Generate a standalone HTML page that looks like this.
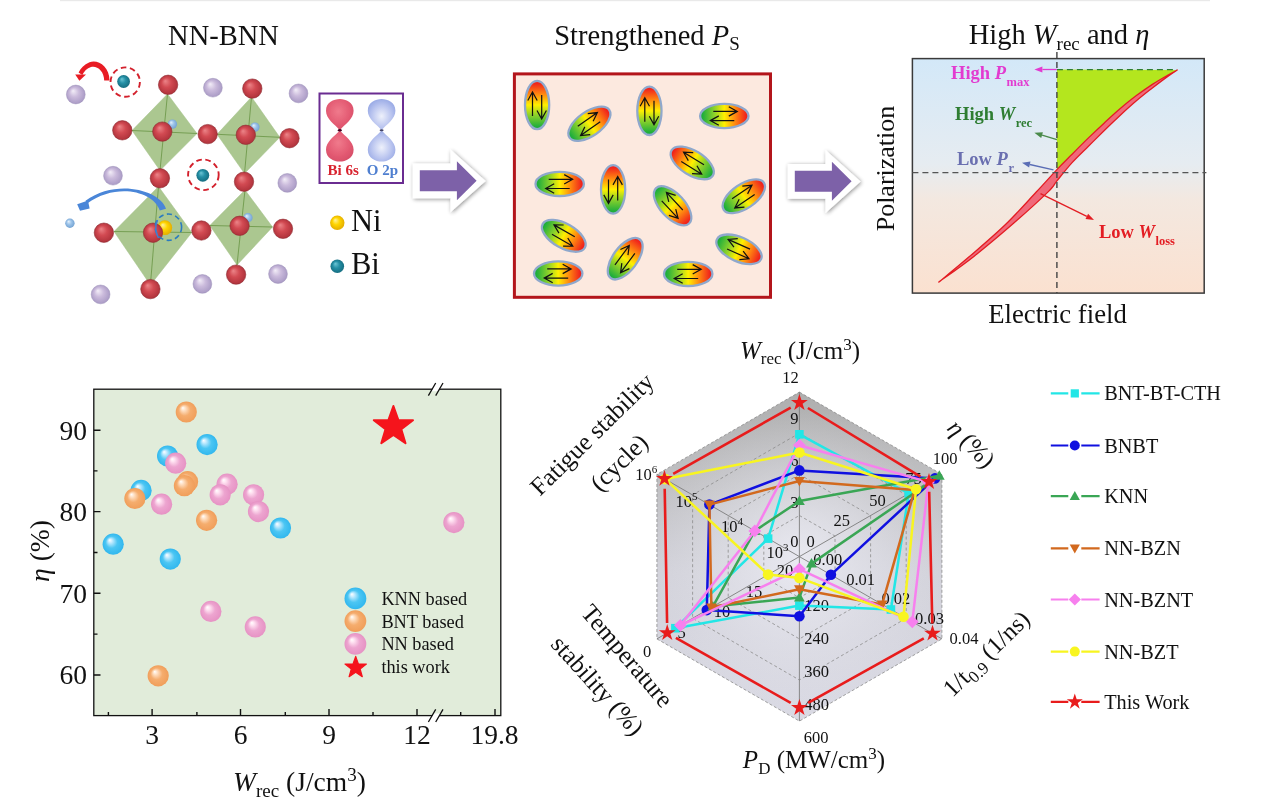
<!DOCTYPE html>
<html lang="en"><head><meta charset="utf-8"><title>NN-BNN energy storage</title>
<style>
html,body{margin:0;padding:0;background:#fff;}
body{width:1269px;height:809px;overflow:hidden;}
svg{display:block;font-family:"Liberation Serif","Times New Roman",serif;fill:#111;}
</style></head><body>
<svg width="1269" height="809" viewBox="0 0 1269 809">
<defs>
<radialGradient id="gRed" cx="0.5" cy="0.5" r="0.55" fx="0.35" fy="0.3"><stop offset="0" stop-color="#ec8589"/><stop offset="0.45" stop-color="#d24a52"/><stop offset="1" stop-color="#aa2f38"/></radialGradient>
<radialGradient id="gPur" cx="0.5" cy="0.5" r="0.55" fx="0.35" fy="0.3"><stop offset="0" stop-color="#f3eef8"/><stop offset="0.45" stop-color="#cbbbdc"/><stop offset="1" stop-color="#a596c2"/></radialGradient>
<radialGradient id="gLb" cx="0.5" cy="0.5" r="0.55" fx="0.35" fy="0.3"><stop offset="0" stop-color="#e6f2fc"/><stop offset="0.45" stop-color="#9dc4ea"/><stop offset="1" stop-color="#6f9fd0"/></radialGradient>
<radialGradient id="gTeal" cx="0.5" cy="0.5" r="0.55" fx="0.35" fy="0.3"><stop offset="0" stop-color="#6fc6d6"/><stop offset="0.45" stop-color="#2590a6"/><stop offset="1" stop-color="#14697c"/></radialGradient>
<radialGradient id="gYel" cx="0.5" cy="0.5" r="0.55" fx="0.35" fy="0.3"><stop offset="0" stop-color="#fff3a0"/><stop offset="0.45" stop-color="#ffd500"/><stop offset="1" stop-color="#e0a800"/></radialGradient>
<radialGradient id="gOr" cx="0.45" cy="0.4" r="0.6"><stop offset="0" stop-color="#f07a8c"/><stop offset="0.7" stop-color="#e35a72"/><stop offset="1" stop-color="#d9506a"/></radialGradient>
<radialGradient id="gOb" cx="0.5" cy="0.55" r="0.6"><stop offset="0" stop-color="#eef1fb"/><stop offset="0.6" stop-color="#b9c4ef"/><stop offset="1" stop-color="#94a6e4"/></radialGradient>
<filter id="blur1"><feGaussianBlur stdDeviation="0.7"/></filter>
<filter id="sh" x="-40%" y="-60%" width="180%" height="220%"><feGaussianBlur in="SourceAlpha" stdDeviation="2.2"/><feOffset dx="0.5" dy="1"/><feComponentTransfer><feFuncA type="linear" slope="0.45"/></feComponentTransfer><feMerge><feMergeNode/><feMergeNode in="SourceGraphic"/></feMerge></filter>
<linearGradient id="gEl" x1="0" y1="0" x2="1" y2="0"><stop offset="0.05" stop-color="#1fae3c"/><stop offset="0.3" stop-color="#8fd22a"/><stop offset="0.5" stop-color="#fff000"/><stop offset="0.72" stop-color="#ff8a10"/><stop offset="0.95" stop-color="#f0241c"/></linearGradient>
<marker id="mk" viewBox="0 0 10 10" refX="9" refY="5" markerWidth="7" markerHeight="7" orient="auto-start-reverse"><path d="M1,1 L9,5 L1,9" fill="none" stroke="#111" stroke-width="1.4"/></marker>
<linearGradient id="gPE" x1="0" y1="0" x2="0" y2="1"><stop offset="0" stop-color="#d3e8f8"/><stop offset="0.45" stop-color="#e6ecf1"/><stop offset="0.6" stop-color="#f3e8e0"/><stop offset="1" stop-color="#fbe1d0"/></linearGradient>
<radialGradient id="sB" cx="0.5" cy="0.5" r="0.5" fx="0.33" fy="0.3"><stop offset="0" stop-color="#ffffff"/><stop offset="0.18" stop-color="#c6ecff"/><stop offset="0.55" stop-color="#4cc6f3"/><stop offset="1" stop-color="#31b7ee"/></radialGradient>
<radialGradient id="sO" cx="0.5" cy="0.5" r="0.5" fx="0.33" fy="0.3"><stop offset="0" stop-color="#ffffff"/><stop offset="0.18" stop-color="#ffe3c9"/><stop offset="0.55" stop-color="#f5ad6e"/><stop offset="1" stop-color="#f09e5a"/></radialGradient>
<radialGradient id="sP" cx="0.5" cy="0.5" r="0.5" fx="0.33" fy="0.3"><stop offset="0" stop-color="#ffffff"/><stop offset="0.18" stop-color="#ffe3f2"/><stop offset="0.55" stop-color="#eda5d0"/><stop offset="1" stop-color="#e692c4"/></radialGradient>
<linearGradient id="gHex" gradientUnits="userSpaceOnUse" x1="0" y1="392" x2="0" y2="721"><stop offset="0" stop-color="#aeaeae"/><stop offset="0.3" stop-color="#c2c2c5"/><stop offset="0.55" stop-color="#d2d2da"/><stop offset="1" stop-color="#dadae4"/></linearGradient>
<radialGradient id="gHex2" gradientUnits="userSpaceOnUse" cx="799.4" cy="560" r="150"><stop offset="0" stop-color="#ececf4" stop-opacity="0.9"/><stop offset="0.5" stop-color="#e8e8f0" stop-opacity="0.45"/><stop offset="1" stop-color="#e0e0e8" stop-opacity="0"/></radialGradient>
</defs>
<rect width="1269" height="809" fill="#fff"/>
<rect x="60" y="0" width="1150" height="1.2" fill="#e9e9e9"/>
<g id="p1">
<text x="223.5" y="45" font-size="28.5" text-anchor="middle">NN-BNN</text>
<polygon points="167.5,94.0 197.0,133.5 160.0,170.5 132.0,130.5" fill="#abc790" stroke="#a3c088" stroke-width="0.5"/>
<path d="M167.5,94L160,170.5M132,130.5L197,133.5" stroke="#6f9a4c" stroke-width="0.9" fill="none"/>
<polygon points="251.5,97.0 279.8,137.3 244.5,173.5 217.0,134.3" fill="#abc790" stroke="#a3c088" stroke-width="0.5"/>
<path d="M251.5,97L244.5,173.5M217,134.3L279.8,137.3" stroke="#6f9a4c" stroke-width="0.9" fill="none"/>
<polygon points="158.5,186.5 191.8,232.5 150.4,285.0 114.0,231.5" fill="#abc790" stroke="#a3c088" stroke-width="0.5"/>
<path d="M158.5,186.5L150.4,285M114,231.5L191.8,232.5" stroke="#6f9a4c" stroke-width="0.9" fill="none"/>
<polygon points="245.0,190.0 272.5,227.0 237.0,265.0 209.8,225.5" fill="#abc790" stroke="#a3c088" stroke-width="0.5"/>
<path d="M245,190L237,265M209.8,225.5L272.5,227" stroke="#6f9a4c" stroke-width="0.9" fill="none"/>
<circle cx="172.4" cy="124.1" r="4.7" fill="url(#gLb)"/>
<circle cx="254.9" cy="127.1" r="4.7" fill="url(#gLb)"/>
<circle cx="247.9" cy="217.7" r="4.7" fill="url(#gLb)"/>
<circle cx="69.9" cy="223.2" r="4.7" fill="url(#gLb)"/>
<circle cx="75.8" cy="94.5" r="9.4" fill="url(#gPur)" stroke="#9d90b8" stroke-width="0.5"/>
<circle cx="212.9" cy="87.7" r="9.4" fill="url(#gPur)" stroke="#9d90b8" stroke-width="0.5"/>
<circle cx="298.5" cy="93.4" r="9.4" fill="url(#gPur)" stroke="#9d90b8" stroke-width="0.5"/>
<circle cx="113" cy="175.7" r="9.4" fill="url(#gPur)" stroke="#9d90b8" stroke-width="0.5"/>
<circle cx="287.3" cy="182.9" r="9.4" fill="url(#gPur)" stroke="#9d90b8" stroke-width="0.5"/>
<circle cx="202.4" cy="283.9" r="9.4" fill="url(#gPur)" stroke="#9d90b8" stroke-width="0.5"/>
<circle cx="278" cy="274" r="9.4" fill="url(#gPur)" stroke="#9d90b8" stroke-width="0.5"/>
<circle cx="100.6" cy="294.4" r="9.4" fill="url(#gPur)" stroke="#9d90b8" stroke-width="0.5"/>
<circle cx="164.8" cy="227.7" r="7.4" fill="url(#gYel)"/>
<circle cx="168.1" cy="84.8" r="9.7" fill="url(#gRed)" stroke="#8e2a30" stroke-width="0.6"/>
<circle cx="252.3" cy="88.6" r="9.7" fill="url(#gRed)" stroke="#8e2a30" stroke-width="0.6"/>
<circle cx="122.3" cy="130.3" r="9.7" fill="url(#gRed)" stroke="#8e2a30" stroke-width="0.6"/>
<circle cx="162.3" cy="131.6" r="9.7" fill="url(#gRed)" stroke="#8e2a30" stroke-width="0.6"/>
<circle cx="207.7" cy="134.1" r="9.7" fill="url(#gRed)" stroke="#8e2a30" stroke-width="0.6"/>
<circle cx="245.8" cy="134.8" r="9.7" fill="url(#gRed)" stroke="#8e2a30" stroke-width="0.6"/>
<circle cx="289.5" cy="138.2" r="9.7" fill="url(#gRed)" stroke="#8e2a30" stroke-width="0.6"/>
<circle cx="159.9" cy="178.3" r="9.7" fill="url(#gRed)" stroke="#8e2a30" stroke-width="0.6"/>
<circle cx="244" cy="181.7" r="9.7" fill="url(#gRed)" stroke="#8e2a30" stroke-width="0.6"/>
<circle cx="103.9" cy="232.7" r="9.7" fill="url(#gRed)" stroke="#8e2a30" stroke-width="0.6"/>
<circle cx="153" cy="232.7" r="9.7" fill="url(#gRed)" stroke="#8e2a30" stroke-width="0.6"/>
<circle cx="201.4" cy="230.5" r="9.7" fill="url(#gRed)" stroke="#8e2a30" stroke-width="0.6"/>
<circle cx="239.6" cy="225.8" r="9.7" fill="url(#gRed)" stroke="#8e2a30" stroke-width="0.6"/>
<circle cx="283" cy="228.8" r="9.7" fill="url(#gRed)" stroke="#8e2a30" stroke-width="0.6"/>
<circle cx="150.4" cy="289.1" r="9.7" fill="url(#gRed)" stroke="#8e2a30" stroke-width="0.6"/>
<circle cx="236.1" cy="274.6" r="9.7" fill="url(#gRed)" stroke="#8e2a30" stroke-width="0.6"/>
<circle cx="123.6" cy="81.5" r="6.4" fill="url(#gTeal)"/>
<circle cx="202.8" cy="175.3" r="6.4" fill="url(#gTeal)"/>
<circle cx="125.2" cy="82.1" r="14.7" fill="none" stroke="#d3202c" stroke-width="1.9" stroke-dasharray="5.6 3.6"/>
<circle cx="203.4" cy="174.8" r="15.3" fill="none" stroke="#d3202c" stroke-width="1.9" stroke-dasharray="5.6 3.6"/>
<circle cx="168.4" cy="227.2" r="13.2" fill="none" stroke="#2a7bc0" stroke-width="1.6" stroke-dasharray="5.2 3.4"/>
<path d="M157.5,220 Q153.5,229 158.5,238" fill="none" stroke="#3f7fd0" stroke-width="1.5"/>
<path d="M104.2,80.6 L109.5,80.4 C109.6,66 97.5,59 89.5,62.2 C84,64.5 80.5,68.5 78.6,72.6 L82.3,75 C84,71.2 87,68 91,66.9 C97,65.4 104,70.5 104.2,80.6 Z" fill="#e81c24"/>
<polygon points="75.2,74.6 86,74.4 79.4,80.8" fill="#e81c24"/>
<path d="M159.8,210.5 L166,208.8 C160,190 116,178.5 85.5,200.8 L87.2,203.6 C116,182.6 153,191 159.8,210.5 Z" fill="#4a86d8"/>
<polygon points="77.2,204.2 88,200.6 89.6,208.6 80,210.8" fill="#4a86d8"/>
<rect x="319.5" y="93.5" width="83.5" height="89.5" fill="#fff" stroke="#6a2c91" stroke-width="2"/>
<path d="M339.8,130.3 C334.8,124.30000000000001 326.0,119.30000000000001 326.0,110.80000000000001 C326.0,102.30000000000001 333.8,99.00000000000001 339.8,99.00000000000001 C345.8,99.00000000000001 353.6,102.30000000000001 353.6,110.80000000000001 C353.6,119.30000000000001 344.8,124.30000000000001 339.8,130.3Z" fill="url(#gOr)" filter="url(#blur1)"/>
<path d="M339.8,130.3 C334.8,136.3 326.0,141.3 326.0,149.8 C326.0,158.3 333.8,161.60000000000002 339.8,161.60000000000002 C345.8,161.60000000000002 353.6,158.3 353.6,149.8 C353.6,141.3 344.8,136.3 339.8,130.3Z" fill="url(#gOr)" filter="url(#blur1)"/>
<path d="M381.6,130.3 C376.6,124.30000000000001 367.8,119.30000000000001 367.8,110.80000000000001 C367.8,102.30000000000001 375.6,99.00000000000001 381.6,99.00000000000001 C387.6,99.00000000000001 395.40000000000003,102.30000000000001 395.40000000000003,110.80000000000001 C395.40000000000003,119.30000000000001 386.6,124.30000000000001 381.6,130.3Z" fill="url(#gOb)" filter="url(#blur1)"/>
<path d="M381.6,130.3 C376.6,136.3 367.8,141.3 367.8,149.8 C367.8,158.3 375.6,161.60000000000002 381.6,161.60000000000002 C387.6,161.60000000000002 395.40000000000003,158.3 395.40000000000003,149.8 C395.40000000000003,141.3 386.6,136.3 381.6,130.3Z" fill="url(#gOb)" filter="url(#blur1)"/>
<ellipse cx="339.8" cy="130.3" rx="2" ry="1.2" fill="#402"/><ellipse cx="381.6" cy="130.3" rx="2" ry="1" fill="#446"/>
<text x="327.5" y="174.7" font-size="15" font-weight="bold" fill="#d8232f">Bi 6s</text>
<text x="366.8" y="174.7" font-size="15" font-weight="bold" fill="#4f7fd0">O 2p</text>
<circle cx="337.3" cy="222.8" r="7.2" fill="url(#gYel)"/>
<circle cx="337.3" cy="266.3" r="6.8" fill="url(#gTeal)"/>
<text x="351" y="230.5" font-size="30.5">Ni</text>
<text x="351" y="273.5" font-size="30.5">Bi</text>
</g>
<polygon points="412.8,163.39999999999998 450.50000000000006,163.39999999999998 450.50000000000006,149.5 485.6,180.89999999999998 450.50000000000006,212.29999999999998 450.50000000000006,198.2 412.8,198.2" fill="#fff" filter="url(#sh)"/><polygon points="419.8,170.2 456.90000000000003,170.2 456.90000000000003,161.2 476.6,180.7 456.90000000000003,200.2 456.90000000000003,191.2 419.8,191.2" fill="#7d61a8"/>
<polygon points="787.8,164.0 825.5,164.0 825.5,150.10000000000002 860.5999999999999,181.5 825.5,212.9 825.5,198.8 787.8,198.8" fill="#fff" filter="url(#sh)"/><polygon points="794.8,170.8 831.9,170.8 831.9,161.8 851.5999999999999,181.3 831.9,200.8 831.9,191.8 794.8,191.8" fill="#7d61a8"/>
<g id="p2">
<text x="647" y="44.5" font-size="28.5" text-anchor="middle">Strengthened <tspan font-style="italic">P</tspan><tspan font-size="19" dy="5.5">S</tspan></text>
<rect x="514.4" y="73.9" width="256.1" height="223.4" fill="#fce9df" stroke="#b3151b" stroke-width="3"/>
<g transform="translate(537.1,105.0) rotate(-90)"><ellipse rx="24.2" ry="12.1" fill="url(#gEl)" stroke="#8fa8cc" stroke-width="2.3"/><g transform="" fill="none" stroke="#111" stroke-width="1.2"><path d="M-11,-4.6 H13 M4.5,-9.3 L13,-4.6 L4.5,0.1"/><path d="M10,4.6 H-14 M-5.5,9.3 L-14,4.6 L-5.5,-0.1"/></g></g>
<g transform="translate(589.4,123.8) rotate(-35)"><ellipse rx="24.2" ry="12.1" fill="url(#gEl)" stroke="#8fa8cc" stroke-width="2.3"/><g transform="" fill="none" stroke="#111" stroke-width="1.2"><path d="M-11,-4.6 H13 M4.5,-9.3 L13,-4.6 L4.5,0.1"/><path d="M10,4.6 H-14 M-5.5,9.3 L-14,4.6 L-5.5,-0.1"/></g></g>
<g transform="translate(649.4,110.8) rotate(-90)"><ellipse rx="24.2" ry="12.1" fill="url(#gEl)" stroke="#8fa8cc" stroke-width="2.3"/><g transform="" fill="none" stroke="#111" stroke-width="1.2"><path d="M-11,-4.6 H13 M4.5,-9.3 L13,-4.6 L4.5,0.1"/><path d="M10,4.6 H-14 M-5.5,9.3 L-14,4.6 L-5.5,-0.1"/></g></g>
<g transform="translate(724.3,116.0) rotate(0)"><ellipse rx="24.2" ry="12.1" fill="url(#gEl)" stroke="#8fa8cc" stroke-width="2.3"/><g transform="" fill="none" stroke="#111" stroke-width="1.2"><path d="M-11,-4.6 H13 M4.5,-9.3 L13,-4.6 L4.5,0.1"/><path d="M10,4.6 H-14 M-5.5,9.3 L-14,4.6 L-5.5,-0.1"/></g></g>
<g transform="translate(692.2,162.9) rotate(211.5)"><ellipse rx="24.2" ry="12.1" fill="url(#gEl)" stroke="#8fa8cc" stroke-width="2.3"/><g transform="scale(1,-1)" fill="none" stroke="#111" stroke-width="1.2"><path d="M-11,-4.6 H13 M4.5,-9.3 L13,-4.6 L4.5,0.1"/><path d="M10,4.6 H-14 M-5.5,9.3 L-14,4.6 L-5.5,-0.1"/></g></g>
<g transform="translate(559.7,183.9) rotate(0)"><ellipse rx="24.2" ry="12.1" fill="url(#gEl)" stroke="#8fa8cc" stroke-width="2.3"/><g transform="" fill="none" stroke="#111" stroke-width="1.2"><path d="M-11,-4.6 H13 M4.5,-9.3 L13,-4.6 L4.5,0.1"/><path d="M10,4.6 H-14 M-5.5,9.3 L-14,4.6 L-5.5,-0.1"/></g></g>
<g transform="translate(613.1,189.4) rotate(-90)"><ellipse rx="24.2" ry="12.1" fill="url(#gEl)" stroke="#8fa8cc" stroke-width="2.3"/><g transform="scale(1,-1)" fill="none" stroke="#111" stroke-width="1.2"><path d="M-11,-4.6 H13 M4.5,-9.3 L13,-4.6 L4.5,0.1"/><path d="M10,4.6 H-14 M-5.5,9.3 L-14,4.6 L-5.5,-0.1"/></g></g>
<g transform="translate(672.6,205.8) rotate(47)"><ellipse rx="24.2" ry="12.1" fill="url(#gEl)" stroke="#8fa8cc" stroke-width="2.3"/><g transform="scale(1,-1)" fill="none" stroke="#111" stroke-width="1.2"><path d="M-11,-4.6 H13 M4.5,-9.3 L13,-4.6 L4.5,0.1"/><path d="M10,4.6 H-14 M-5.5,9.3 L-14,4.6 L-5.5,-0.1"/></g></g>
<g transform="translate(743.8,196.3) rotate(-34)"><ellipse rx="24.2" ry="12.1" fill="url(#gEl)" stroke="#8fa8cc" stroke-width="2.3"/><g transform="" fill="none" stroke="#111" stroke-width="1.2"><path d="M-11,-4.6 H13 M4.5,-9.3 L13,-4.6 L4.5,0.1"/><path d="M10,4.6 H-14 M-5.5,9.3 L-14,4.6 L-5.5,-0.1"/></g></g>
<g transform="translate(563.8,235.8) rotate(29.7)"><ellipse rx="24.2" ry="12.1" fill="url(#gEl)" stroke="#8fa8cc" stroke-width="2.3"/><g transform="scale(1,-1)" fill="none" stroke="#111" stroke-width="1.2"><path d="M-11,-4.6 H13 M4.5,-9.3 L13,-4.6 L4.5,0.1"/><path d="M10,4.6 H-14 M-5.5,9.3 L-14,4.6 L-5.5,-0.1"/></g></g>
<g transform="translate(625.2,258.7) rotate(-53.4)"><ellipse rx="24.2" ry="12.1" fill="url(#gEl)" stroke="#8fa8cc" stroke-width="2.3"/><g transform="" fill="none" stroke="#111" stroke-width="1.2"><path d="M-11,-4.6 H13 M4.5,-9.3 L13,-4.6 L4.5,0.1"/><path d="M10,4.6 H-14 M-5.5,9.3 L-14,4.6 L-5.5,-0.1"/></g></g>
<g transform="translate(739.0,249.3) rotate(24)"><ellipse rx="24.2" ry="12.1" fill="url(#gEl)" stroke="#8fa8cc" stroke-width="2.3"/><g transform="scale(1,-1)" fill="none" stroke="#111" stroke-width="1.2"><path d="M-11,-4.6 H13 M4.5,-9.3 L13,-4.6 L4.5,0.1"/><path d="M10,4.6 H-14 M-5.5,9.3 L-14,4.6 L-5.5,-0.1"/></g></g>
<g transform="translate(558.2,273.5) rotate(0)"><ellipse rx="24.2" ry="12.1" fill="url(#gEl)" stroke="#8fa8cc" stroke-width="2.3"/><g transform="" fill="none" stroke="#111" stroke-width="1.2"><path d="M-11,-4.6 H13 M4.5,-9.3 L13,-4.6 L4.5,0.1"/><path d="M10,4.6 H-14 M-5.5,9.3 L-14,4.6 L-5.5,-0.1"/></g></g>
<g transform="translate(688.2,273.9) rotate(0)"><ellipse rx="24.2" ry="12.1" fill="url(#gEl)" stroke="#8fa8cc" stroke-width="2.3"/><g transform="" fill="none" stroke="#111" stroke-width="1.2"><path d="M-11,-4.6 H13 M4.5,-9.3 L13,-4.6 L4.5,0.1"/><path d="M10,4.6 H-14 M-5.5,9.3 L-14,4.6 L-5.5,-0.1"/></g></g>
</g>
<g id="p3">
<text x="1059" y="44" font-size="28.5" text-anchor="middle">High <tspan font-style="italic">W</tspan><tspan font-size="19" dy="6">rec</tspan><tspan dy="-6"> and </tspan><tspan font-style="italic">η</tspan></text>
<rect x="912.4" y="58.6" width="291.8" height="234.5" fill="url(#gPE)" stroke="#3a3a3a" stroke-width="1.5"/>
<path d="M1056.9,69.6 L1177.3,70.0 C1175.8,70.8 1172.7,72.4 1168.5,74.8 C1164.3,77.2 1157.8,80.9 1152.4,84.4 C1147.1,87.9 1141.8,91.6 1136.4,95.6 C1131.1,99.6 1125.7,104.0 1120.3,108.5 C1114.9,113.0 1109.6,118.0 1104.3,122.9 C1099.0,127.8 1093.6,132.9 1088.2,138.1 C1082.8,143.3 1077.3,148.9 1072.1,154.2 C1066.9,159.4 1059.4,167.0 1056.9,169.6 Z" fill="#b4e61e"/>
<path d="M938.8,282.1 C943.9,277.9 958.3,266.2 969.4,256.6 C980.5,247.0 994.4,235.2 1005.5,224.5 C1016.6,213.8 1027.4,201.5 1036.0,192.3 C1044.6,183.2 1050.9,175.9 1056.9,169.6 C1062.9,163.2 1066.9,159.4 1072.1,154.2 C1077.3,148.9 1082.8,143.3 1088.2,138.1 C1093.6,132.9 1099.0,127.8 1104.3,122.9 C1109.6,118.0 1114.9,113.0 1120.3,108.5 C1125.7,104.0 1131.1,99.6 1136.4,95.6 C1141.8,91.6 1147.1,87.9 1152.4,84.4 C1157.8,80.9 1164.3,77.2 1168.5,74.8 C1172.7,72.4 1175.8,70.8 1177.3,70.0 C1175.8,71.0 1172.7,72.9 1168.5,75.9 C1164.3,78.9 1157.8,83.8 1152.4,87.9 C1147.1,92.1 1141.8,96.2 1136.4,100.8 C1131.1,105.3 1125.7,110.2 1120.3,115.2 C1114.9,120.2 1109.6,125.3 1104.3,130.5 C1099.0,135.7 1093.6,141.2 1088.2,146.5 C1082.8,151.8 1077.3,156.9 1072.1,162.6 C1066.9,168.3 1060.9,176.0 1056.9,180.9 C1052.9,185.8 1055.5,184.7 1048.1,191.9 C1040.7,199.1 1025.0,213.4 1012.7,224.1 C1000.4,234.8 986.5,246.5 974.2,256.2 C961.9,265.9 944.7,277.8 938.8,282.1 Z" fill="#f0697a" stroke="#e31d23" stroke-width="1.3" stroke-linejoin="round"/>
<path d="M912.4,172.6 H1206.4" stroke="#555" stroke-width="1.4" stroke-dasharray="6 4" fill="none"/>
<path d="M1056.9,52 V293" stroke="#444" stroke-width="1.4" stroke-dasharray="6 4" fill="none"/>
<path d="M1056.9,69.6 H1177" stroke="#2e7d32" stroke-width="1.4" stroke-dasharray="6 4" fill="none"/>
<path d="M1056.9,69.5 L1042.4,69.5" stroke="#e23bd0" stroke-width="1.3" fill="none"/><polygon points="1034.4,69.5 1042.4,66.5 1042.4,72.5" fill="#e23bd0"/>
<path d="M1056.9,139.6 L1042.1,135.1" stroke="#4a8a4a" stroke-width="1.3" fill="none"/><polygon points="1034.4,132.8 1042.9,132.2 1041.2,138.0" fill="#4a8a4a"/>
<path d="M1053.5,169.8 L1029.8,164.5" stroke="#5a6db5" stroke-width="1.3" fill="none"/><polygon points="1022.0,162.7 1030.5,161.5 1029.1,167.4" fill="#5a6db5"/>
<path d="M1040.5,193.6 L1086.8,216.4" stroke="#e31d23" stroke-width="1.3" fill="none"/><polygon points="1094.0,219.9 1085.5,219.1 1088.1,213.7" fill="#e31d23"/>
<text x="951" y="79.3" font-size="18.5" font-weight="bold" fill="#e23bd0">High <tspan font-style="italic">P</tspan><tspan font-size="12.5" dy="7" dx="0.5">max</tspan></text>
<text x="955" y="120.4" font-size="18.5" font-weight="bold" fill="#2e7d32">High <tspan font-style="italic">W</tspan><tspan font-size="12.5" dy="7" dx="0.5">rec</tspan></text>
<text x="957" y="164.9" font-size="18.5" font-weight="bold" fill="#6a6fb0">Low <tspan font-style="italic">P</tspan><tspan font-size="12.5" dy="7" dx="0.5">r</tspan></text>
<text x="1099" y="238.4" font-size="18.5" font-weight="bold" fill="#e31d23">Low <tspan font-style="italic">W</tspan><tspan font-size="12.5" dy="7" dx="0.5">loss</tspan></text>
<text transform="translate(894,168.5) rotate(-90)" font-size="26" text-anchor="middle">Polarization</text>
<text x="1057.5" y="322.5" font-size="26.7" text-anchor="middle">Electric field</text>
</g>
<g id="p4">
<rect x="93.8" y="389.2" width="407.0" height="326.40000000000003" fill="#e1ecda" stroke="#111" stroke-width="1.3"/>
<text x="87" y="439.5" font-size="27.5" text-anchor="end">90</text>
<text x="87" y="520.9" font-size="27.5" text-anchor="end">80</text>
<text x="87" y="602.6" font-size="27.5" text-anchor="end">70</text>
<text x="87" y="684.3" font-size="27.5" text-anchor="end">60</text>
<path d="M93.8,430.2 h6.7 M93.8,511.6 h6.7 M93.8,593.3 h6.7 M93.8,675.0 h6.7 M93.8,470.9 h3.7 M93.8,552.5 h3.7 M93.8,634.1 h3.7 M152.1,715.6 v-6.7 M240.5,715.6 v-6.7 M329,715.6 v-6.7 M417,715.6 v-6.7 M495,715.6 v-6.7 M108.4,715.6 v-3.7 M196.9,715.6 v-3.7 M285.3,715.6 v-3.7 M373,715.6 v-3.7 M460.7,715.6 v-3.7 " stroke="#111" stroke-width="1.4" fill="none"/>
<text x="152.1" y="744" font-size="27.5" text-anchor="middle">3</text>
<text x="240.5" y="744" font-size="27.5" text-anchor="middle">6</text>
<text x="329" y="744" font-size="27.5" text-anchor="middle">9</text>
<text x="417" y="744" font-size="27.5" text-anchor="middle">12</text>
<text x="494.5" y="744" font-size="27.5" text-anchor="middle">19.8</text>
<polygon points="431.2,391.2 433.5,387.2 440.8,387.2 438.5,391.2" fill="#fff"/>
<path d="M428.4,395.59999999999997 l7.3,-12.6 M435.7,395.59999999999997 l7.3,-12.6" stroke="#111" stroke-width="1.3" fill="none"/>
<polygon points="431.2,717.6 433.5,713.6 440.8,713.6 438.5,717.6" fill="#fff"/>
<path d="M428.4,722.0 l7.3,-12.6 M435.7,722.0 l7.3,-12.6" stroke="#111" stroke-width="1.3" fill="none"/>
<circle cx="113.2" cy="544.2" r="10.6" fill="url(#sB)"/>
<circle cx="141.1" cy="490.4" r="10.6" fill="url(#sB)"/>
<circle cx="167.6" cy="456" r="10.6" fill="url(#sB)"/>
<circle cx="207.1" cy="444.6" r="10.6" fill="url(#sB)"/>
<circle cx="170.3" cy="559.1" r="10.6" fill="url(#sB)"/>
<circle cx="280.5" cy="528" r="10.6" fill="url(#sB)"/>
<circle cx="186.3" cy="412" r="10.6" fill="url(#sO)"/>
<circle cx="134.9" cy="498.5" r="10.6" fill="url(#sO)"/>
<circle cx="187.6" cy="481.7" r="10.6" fill="url(#sO)"/>
<circle cx="184.4" cy="485.7" r="10.6" fill="url(#sO)"/>
<circle cx="206.6" cy="520.3" r="10.6" fill="url(#sO)"/>
<circle cx="158.2" cy="675.8" r="10.6" fill="url(#sO)"/>
<circle cx="175.7" cy="463.2" r="10.6" fill="url(#sP)"/>
<circle cx="161.6" cy="504.2" r="10.6" fill="url(#sP)"/>
<circle cx="227.1" cy="484.2" r="10.6" fill="url(#sP)"/>
<circle cx="220.2" cy="494.8" r="10.6" fill="url(#sP)"/>
<circle cx="253.6" cy="494.8" r="10.6" fill="url(#sP)"/>
<circle cx="258.5" cy="511.6" r="10.6" fill="url(#sP)"/>
<circle cx="210.9" cy="611.4" r="10.6" fill="url(#sP)"/>
<circle cx="255.3" cy="626.9" r="10.6" fill="url(#sP)"/>
<circle cx="453.9" cy="522.6" r="10.6" fill="url(#sP)"/>
<polygon points="393.4,406.0 398.3,419.9 413.0,420.2 401.3,429.2 405.5,443.3 393.4,434.9 381.3,443.3 385.5,429.2 373.8,420.2 388.5,419.9" fill="#f5141c" stroke="#f5141c" stroke-width="2" stroke-linejoin="round"/>
<circle cx="355.4" cy="598.4" r="10.9" fill="url(#sB)"/>
<circle cx="355.4" cy="621.1" r="10.9" fill="url(#sO)"/>
<circle cx="355.4" cy="643.9" r="10.9" fill="url(#sP)"/>
<polygon points="355.7,656.4 358.4,663.9 366.4,664.1 360.1,669.0 362.3,676.7 355.7,672.2 349.1,676.7 351.3,669.0 345.0,664.1 353.0,663.9" fill="#f5141c" stroke="#f5141c" stroke-width="1.2" stroke-linejoin="round"/>
<text x="381.4" y="604.6" font-size="18.3">KNN based</text>
<text x="381.4" y="627.5" font-size="18.3">BNT based</text>
<text x="381.4" y="650.4" font-size="18.3">NN based</text>
<text x="381.4" y="672.9" font-size="18.3">this work</text>
<text transform="translate(48.5,551) rotate(-90)" font-size="27.5" text-anchor="middle"><tspan font-style="italic">η</tspan> (%)</text>
<text x="299.5" y="790.5" font-size="27.5" text-anchor="middle"><tspan font-style="italic">W</tspan><tspan font-size="19" dy="6">rec</tspan><tspan dy="-6"> (J/cm</tspan><tspan font-size="19" dy="-10">3</tspan><tspan dy="10">)</tspan></text>
</g>
<g id="p5">
<polygon points="799.4,392.1 941.9,474.4 941.9,638.9 799.4,721.1 656.9,638.9 656.9,474.4" fill="url(#gHex)"/>
<polygon points="799.4,392.1 941.9,474.4 941.9,638.9 799.4,721.1 656.9,638.9 656.9,474.4" fill="url(#gHex2)" stroke="#8a8a8a" stroke-width="0.8" stroke-dasharray="3 2"/>
<polygon points="799.4,515.5 835.0,536.0 835.0,577.2 799.4,597.7 763.8,577.2 763.8,536.0" fill="none" stroke="#8c8c8c" stroke-width="0.8" stroke-dasharray="3 2.5"/>
<polygon points="799.4,474.4 870.6,515.5 870.6,597.7 799.4,638.9 728.2,597.7 728.2,515.5" fill="none" stroke="#8c8c8c" stroke-width="0.8" stroke-dasharray="3 2.5"/>
<polygon points="799.4,433.2 906.2,494.9 906.2,618.3 799.4,680.0 692.6,618.3 692.6,494.9" fill="none" stroke="#8c8c8c" stroke-width="0.8" stroke-dasharray="3 2.5"/>
<path d="M799.4,556.6 L799.4,392.1" stroke="#7d7d7d" stroke-width="0.9" fill="none"/>
<path d="M799.4,556.6 L941.9,474.4" stroke="#7d7d7d" stroke-width="0.9" fill="none"/>
<path d="M799.4,556.6 L941.9,638.9" stroke="#7d7d7d" stroke-width="0.9" fill="none"/>
<path d="M799.4,556.6 L799.4,721.1" stroke="#7d7d7d" stroke-width="0.9" fill="none"/>
<path d="M799.4,556.6 L656.9,638.9" stroke="#7d7d7d" stroke-width="0.9" fill="none"/>
<path d="M799.4,556.6 L656.9,474.4" stroke="#7d7d7d" stroke-width="0.9" fill="none"/>
<text x="790.5" y="382.6" font-size="16.5" text-anchor="middle">12</text>
<text x="794.3" y="423.5" font-size="16.5" text-anchor="middle">9</text>
<text x="794.3" y="466.4" font-size="16.5" text-anchor="middle">6</text>
<text x="794.3" y="507.5" font-size="16.5" text-anchor="middle">3</text>
<text x="794.3" y="547.1" font-size="16.5" text-anchor="middle">0</text>
<text x="810.7" y="547.1" font-size="16.5" text-anchor="middle">0</text>
<text x="841.7" y="526.1" font-size="16.5" text-anchor="middle">25</text>
<text x="877.5" y="505.5" font-size="16.5" text-anchor="middle">50</text>
<text x="913.6" y="484.0" font-size="16.5" text-anchor="middle">75</text>
<text x="945.2" y="463.9" font-size="16.5" text-anchor="middle">100</text>
<text x="827.8" y="564.7" font-size="16.5" text-anchor="middle">0.00</text>
<text x="860.6" y="584.8" font-size="16.5" text-anchor="middle">0.01</text>
<text x="895.9" y="603.7" font-size="16.5" text-anchor="middle">0.02</text>
<text x="929.5" y="623.9" font-size="16.5" text-anchor="middle">0.03</text>
<text x="964" y="643.5" font-size="16.5" text-anchor="middle">0.04</text>
<text x="816.5" y="610.7" font-size="16.5" text-anchor="middle">120</text>
<text x="816.5" y="644.0" font-size="16.5" text-anchor="middle">240</text>
<text x="816.5" y="676.8" font-size="16.5" text-anchor="middle">360</text>
<text x="816.5" y="709.6" font-size="16.5" text-anchor="middle">480</text>
<text x="816" y="742.9" font-size="16.5" text-anchor="middle">600</text>
<text x="785" y="575.9" font-size="16.5" text-anchor="middle">20</text>
<text x="754" y="596.9" font-size="16.5" text-anchor="middle">15</text>
<text x="722" y="616.8" font-size="16.5" text-anchor="middle">10</text>
<text x="681.6" y="637.7" font-size="16.5" text-anchor="middle">5</text>
<text x="647" y="656.6" font-size="16.5" text-anchor="middle">0</text>
<text x="646.3" y="480.2" font-size="16.5" text-anchor="middle">10<tspan font-size="11" dy="-7">6</tspan></text>
<text x="686.6" y="506.7" font-size="16.5" text-anchor="middle">10<tspan font-size="11" dy="-7">5</tspan></text>
<text x="732" y="531.9" font-size="16.5" text-anchor="middle">10<tspan font-size="11" dy="-7">4</tspan></text>
<text x="777.4" y="558.4" font-size="16.5" text-anchor="middle">10<tspan font-size="11" dy="-7">3</tspan></text>
<polygon points="799.4,434.3 908.7,493.5 890.9,609.5 799.4,605.6 675.4,628.2 768.1,538.6" fill="none" stroke="#22e6e6" stroke-width="2.5" stroke-linejoin="round"/>
<rect x="795.1" y="430.0" width="8.6" height="8.6" fill="#22e6e6"/>
<rect x="904.4" y="489.2" width="8.6" height="8.6" fill="#22e6e6"/>
<rect x="886.6" y="605.2" width="8.6" height="8.6" fill="#22e6e6"/>
<rect x="795.1" y="601.3" width="8.6" height="8.6" fill="#22e6e6"/>
<rect x="671.1" y="623.9" width="8.6" height="8.6" fill="#22e6e6"/>
<rect x="763.8" y="534.3" width="8.6" height="8.6" fill="#22e6e6"/>
<polygon points="799.4,470.4 934.9,478.4 830.9,574.8 799.4,616.2 706.8,610.1 709.4,504.6" fill="none" stroke="#1010e0" stroke-width="2.5" stroke-linejoin="round"/>
<circle cx="799.4" cy="470.4" r="5.3" fill="#1010e0"/>
<circle cx="934.9" cy="478.4" r="5.3" fill="#1010e0"/>
<circle cx="830.9" cy="574.8" r="5.3" fill="#1010e0"/>
<circle cx="799.4" cy="616.2" r="5.3" fill="#1010e0"/>
<circle cx="706.8" cy="610.1" r="5.3" fill="#1010e0"/>
<circle cx="709.4" cy="504.6" r="5.3" fill="#1010e0"/>
<polygon points="799.4,501.1 939.3,475.8 811.5,563.6 799.4,597.6 712.8,606.6 754.8,530.9" fill="none" stroke="#3aa655" stroke-width="2.5" stroke-linejoin="round"/>
<polygon points="799.4,495.6 804.8,505.1 794.0,505.1" fill="#3aa655"/>
<polygon points="939.3,470.3 944.7,479.8 933.9,479.8" fill="#3aa655"/>
<polygon points="811.5,558.1 816.9,567.6 806.1,567.6" fill="#3aa655"/>
<polygon points="799.4,592.1 804.8,601.6 794.0,601.6" fill="#3aa655"/>
<polygon points="712.8,601.1 718.2,610.6 707.4,610.6" fill="#3aa655"/>
<polygon points="754.8,525.4 760.2,534.9 749.4,534.9" fill="#3aa655"/>
<polygon points="799.4,481.0 914.6,490.1 882.1,604.4 799.4,589.3 711.4,607.4 709.4,504.6" fill="none" stroke="#d2691e" stroke-width="2.5" stroke-linejoin="round"/>
<polygon points="799.4,486.5 804.8,477.0 794.0,477.0" fill="#d2691e"/>
<polygon points="914.6,495.6 920.0,486.1 909.2,486.1" fill="#d2691e"/>
<polygon points="882.1,609.9 887.5,600.4 876.7,600.4" fill="#d2691e"/>
<polygon points="799.4,594.8 804.8,585.3 794.0,585.3" fill="#d2691e"/>
<polygon points="711.4,612.9 716.8,603.4 706.0,603.4" fill="#d2691e"/>
<polygon points="709.4,510.1 714.8,500.6 704.0,500.6" fill="#d2691e"/>
<polygon points="799.4,445.2 928.4,482.1 912.3,621.8 799.4,569.1 680.4,625.3 754.8,530.9" fill="none" stroke="#f780ee" stroke-width="2.5" stroke-linejoin="round"/>
<polygon points="799.4,438.8 805.8,445.2 799.4,451.6 793.0,445.2" fill="#f780ee"/>
<polygon points="928.4,475.7 934.8,482.1 928.4,488.5 922.0,482.1" fill="#f780ee"/>
<polygon points="912.3,615.4 918.7,621.8 912.3,628.2 905.9,621.8" fill="#f780ee"/>
<polygon points="799.4,562.7 805.8,569.1 799.4,575.5 793.0,569.1" fill="#f780ee"/>
<polygon points="680.4,618.9 686.8,625.3 680.4,631.7 674.0,625.3" fill="#f780ee"/>
<polygon points="754.8,524.5 761.2,530.9 754.8,537.2 748.4,530.9" fill="#f780ee"/>
<polygon points="799.4,452.5 916.1,489.2 903.5,616.7 799.4,577.9 768.1,574.6 665.2,479.1" fill="none" stroke="#f8f520" stroke-width="2.5" stroke-linejoin="round"/>
<circle cx="799.4" cy="452.5" r="5.3" fill="#f8f520"/>
<circle cx="916.1" cy="489.2" r="5.3" fill="#f8f520"/>
<circle cx="903.5" cy="616.7" r="5.3" fill="#f8f520"/>
<circle cx="799.4" cy="577.9" r="5.3" fill="#f8f520"/>
<circle cx="768.1" cy="574.6" r="5.3" fill="#f8f520"/>
<circle cx="665.2" cy="479.1" r="5.3" fill="#f8f520"/>
<path d="M807.9,408.0 L920.4,476.6 M929.2,491.8 L932.3,623.5 M923.8,638.3 L808.1,702.9 M790.7,702.9 L675.9,637.8 M667.1,622.9 L664.7,488.7 M673.2,473.8 L790.7,407.7 " stroke="#e81c1c" stroke-width="2.6" fill="none"/>
<polygon points="799.4,394.0 801.4,400.1 807.8,400.1 802.6,403.8 804.6,409.9 799.4,406.2 794.2,409.9 796.2,403.8 791.0,400.1 797.4,400.1" fill="#e81c1c" stroke="#e81c1c" stroke-width="0" stroke-linejoin="round"/>
<polygon points="929.0,473.0 930.9,479.1 937.3,479.1 932.2,482.8 934.1,488.9 929.0,485.2 923.8,488.9 925.8,482.8 920.6,479.1 927.0,479.1" fill="#e81c1c" stroke="#e81c1c" stroke-width="0" stroke-linejoin="round"/>
<polygon points="932.5,624.7 934.5,630.7 940.9,630.7 935.7,634.5 937.7,640.6 932.5,636.8 927.3,640.6 929.3,634.5 924.1,630.7 930.5,630.7" fill="#e81c1c" stroke="#e81c1c" stroke-width="0" stroke-linejoin="round"/>
<polygon points="799.4,699.0 801.4,705.1 807.8,705.1 802.6,708.8 804.6,714.9 799.4,711.2 794.2,714.9 796.2,708.8 791.0,705.1 797.4,705.1" fill="#e81c1c" stroke="#e81c1c" stroke-width="0" stroke-linejoin="round"/>
<polygon points="667.2,624.1 669.2,630.2 675.6,630.2 670.4,633.9 672.4,640.0 667.2,636.3 662.1,640.0 664.0,633.9 658.9,630.2 665.3,630.2" fill="#e81c1c" stroke="#e81c1c" stroke-width="0" stroke-linejoin="round"/>
<polygon points="664.5,469.9 666.4,476.0 672.8,476.0 667.7,479.7 669.6,485.8 664.5,482.1 659.3,485.8 661.3,479.7 656.1,476.0 662.5,476.0" fill="#e81c1c" stroke="#e81c1c" stroke-width="0" stroke-linejoin="round"/>
<text x="800" y="358.5" font-size="25" text-anchor="middle"><tspan font-style="italic">W</tspan><tspan font-size="17.0" dy="5.5">rec</tspan><tspan dy="-5.5"> (J/cm</tspan><tspan font-size="17.0" dy="-9.0">3</tspan><tspan dy="9.0">)</tspan></text>
<text x="814" y="768" font-size="25" text-anchor="middle"><tspan font-style="italic">P</tspan><tspan font-size="17" dy="5.5">D</tspan><tspan dy="-5.5"> (MW/cm</tspan><tspan font-size="17" dy="-9">3</tspan><tspan dy="9">)</tspan></text>
<text transform="translate(970.4,444.5) rotate(46.5)" y="7" font-size="25" text-anchor="middle"><tspan font-style="italic">η</tspan> (%)</text>
<text transform="translate(987,654.4) rotate(-44.5)" y="7" font-size="24.5" text-anchor="middle">1/t<tspan font-size="17" dy="5.5">0.9</tspan><tspan dy="-5.5"> (1/ns)</tspan></text>
<text transform="translate(626.3,656.7) rotate(49.5)" y="7" font-size="25" text-anchor="middle">Temperature</text>
<text transform="translate(596.6,686.4) rotate(48)" y="7" font-size="25" text-anchor="middle">stability (%)</text>
<text transform="translate(592.9,435) rotate(-44.5)" y="7" font-size="25" text-anchor="middle">Fatigue stability</text>
<text transform="translate(620,463.4) rotate(-44.5)" y="7" font-size="25" text-anchor="middle">(cycle)</text>
<path d="M1050.8,393.4 H1068.3 M1081.3,393.4 H1099.6" stroke="#22e6e6" stroke-width="2.2"/>
<rect x="1070.7" y="389.3" width="8.2" height="8.2" fill="#22e6e6"/>
<text x="1104.2" y="400.4" font-size="20.3">BNT-BT-CTH</text>
<path d="M1050.8,445.5 H1068.3 M1081.3,445.5 H1099.6" stroke="#1010e0" stroke-width="2.2"/>
<circle cx="1074.8" cy="445.5" r="5.0" fill="#1010e0"/>
<text x="1104.2" y="452.5" font-size="20.3">BNBT</text>
<path d="M1050.8,496.2 H1068.3 M1081.3,496.2 H1099.6" stroke="#3aa655" stroke-width="2.2"/>
<polygon points="1074.8,491.0 1079.9,500.0 1069.7,500.0" fill="#3aa655"/>
<text x="1104.2" y="503.2" font-size="20.3">KNN</text>
<path d="M1050.8,548.3 H1068.3 M1081.3,548.3 H1099.6" stroke="#d2691e" stroke-width="2.2"/>
<polygon points="1074.8,553.5 1079.9,544.5 1069.7,544.5" fill="#d2691e"/>
<text x="1104.2" y="555.3" font-size="20.3">NN-BZN</text>
<path d="M1050.8,599.5 H1068.3 M1081.3,599.5 H1099.6" stroke="#f780ee" stroke-width="2.2"/>
<polygon points="1074.8,593.4 1080.9,599.5 1074.8,605.6 1068.7,599.5" fill="#f780ee"/>
<text x="1104.2" y="606.5" font-size="20.3">NN-BZNT</text>
<path d="M1050.8,651.6 H1068.3 M1081.3,651.6 H1099.6" stroke="#f8f520" stroke-width="2.2"/>
<circle cx="1074.8" cy="651.6" r="5.0" fill="#f8f520"/>
<text x="1104.2" y="658.6" font-size="20.3">NN-BZT</text>
<path d="M1050.8,701.9 H1068.3 M1081.3,701.9 H1099.6" stroke="#e81c1c" stroke-width="2.2"/>
<polygon points="1074.8,693.5 1076.7,699.3 1082.8,699.3 1077.8,702.9 1079.7,708.7 1074.8,705.1 1069.9,708.7 1071.8,702.9 1066.8,699.3 1072.9,699.3" fill="#e81c1c" stroke="#e81c1c" stroke-width="0" stroke-linejoin="round"/>
<text x="1104.2" y="708.9" font-size="20.3">This Work</text>
</g>
</svg>
</body></html>
